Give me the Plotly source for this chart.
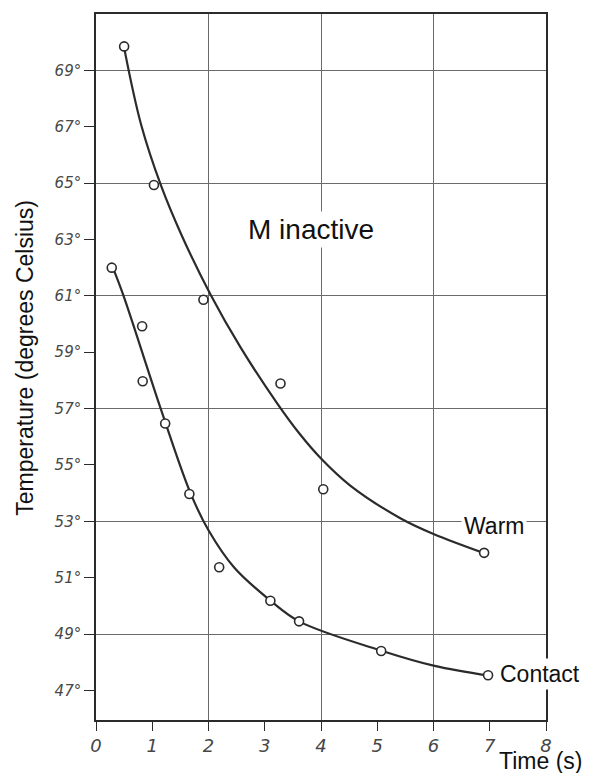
import plotly.graph_objects as go

# ---- data ----
warm_t = [0.50, 1.03, 1.91, 3.28, 4.04, 6.90]
warm_T = [69.85, 64.93, 60.86, 57.89, 54.14, 51.88]

contact_t = [0.28, 0.82, 0.83, 1.23, 1.66, 2.19, 3.10, 3.61, 5.07, 6.97]
contact_T = [62.0, 59.92, 57.97, 56.47, 53.97, 51.37, 50.18, 49.45, 48.40, 47.54]

# smooth fitted curves
warm_curve_t = [0.51, 0.80, 1.16, 1.52, 2.04, 2.57, 3.23, 3.63, 4.00, 4.52, 5.41, 6.00, 6.90]
warm_curve_T = [69.70, 67.09, 64.89, 63.16, 61.03, 59.17, 57.16, 56.08, 55.23, 54.27, 53.11, 52.55, 51.87]

contact_curve_t = [0.30, 0.49, 1.15, 1.68, 2.00, 2.46, 3.11, 3.61, 5.09, 6.02, 6.99]
contact_curve_T = [62.0, 61.0, 57.0, 54.0, 52.68, 51.35, 50.17, 49.45, 48.40, 47.87, 47.52]

x_ticks = [0, 1, 2, 3, 4, 5, 6, 7, 8]
y_ticks = [47, 49, 51, 53, 55, 57, 59, 61, 63, 65, 67, 69]
y_tick_text = [f"{v}°" for v in y_ticks]
x_grid = [2, 4, 6]
y_grid = [49, 53, 57, 61, 65, 69]

x_range = [0, 8]
y_range = [45.95, 71.0]

INK = "#2b2b2b"
GRID = "#6a6a6a"
TICKFONT = dict(family="DejaVu Sans", size=15, color="#474747", style="italic")

fig = go.Figure()

# grid-only overlay axes (dummy trace)
fig.add_trace(go.Scatter(x=[None], y=[None], xaxis="x2", yaxis="y2",
                         showlegend=False, hoverinfo="skip"))

fig.add_trace(go.Scatter(x=warm_curve_t, y=warm_curve_T, mode="lines",
                         line=dict(color=INK, width=2.2, shape="spline", smoothing=1.0),
                         showlegend=False, hoverinfo="skip"))
fig.add_trace(go.Scatter(x=contact_curve_t, y=contact_curve_T, mode="lines",
                         line=dict(color=INK, width=2.2, shape="spline", smoothing=1.0),
                         showlegend=False, hoverinfo="skip"))

marker_style = dict(symbol="circle", size=9, color="white",
                    line=dict(color=INK, width=1.6))
fig.add_trace(go.Scatter(x=warm_t, y=warm_T, mode="markers", name="Warm",
                         marker=marker_style, showlegend=False))
fig.add_trace(go.Scatter(x=contact_t, y=contact_T, mode="markers", name="Contact",
                         marker=marker_style, showlegend=False))

# page body adds an 8px offset, so the figure is 8px smaller and shifted
fig.update_layout(
    width=583, height=765,
    margin=dict(l=88, r=45, t=4, b=53),
    paper_bgcolor="white", plot_bgcolor="white",
    showlegend=False,
    xaxis=dict(range=x_range, tickvals=x_ticks, ticktext=[str(v) for v in x_ticks],
               ticks="outside", ticklen=9, tickwidth=1.3, tickcolor=INK,
               showline=True, mirror=True, linecolor=INK, linewidth=1.6,
               showgrid=False, zeroline=False, tickfont=dict(TICKFONT, size=18)),
    yaxis=dict(range=y_range, tickvals=y_ticks, ticktext=y_tick_text,
               ticks="outside", ticklen=10, tickwidth=1.3, tickcolor=INK,
               showline=True, mirror=True, linecolor=INK, linewidth=1.6,
               showgrid=False, zeroline=False, tickfont=TICKFONT),
    xaxis2=dict(overlaying="x", range=x_range, tickvals=x_grid, showgrid=True,
                gridcolor=GRID, gridwidth=1.2, showticklabels=False, ticks="",
                showline=False, zeroline=False),
    yaxis2=dict(overlaying="y", range=y_range, tickvals=y_grid, showgrid=True,
                gridcolor=GRID, gridwidth=1.2, showticklabels=False, ticks="",
                showline=False, zeroline=False),
)

LABEL_FONT = dict(family="Liberation Sans, Arial, sans-serif", color="#111111")

fig.add_annotation(x=3.83, y=63.35, xref="x", yref="y", text="M inactive",
                   showarrow=False, font=dict(LABEL_FONT, size=28),
                   bgcolor="white", borderpad=2)
fig.add_annotation(x=6.48, y=52.85, xref="x", yref="y", text="Warm",
                   xanchor="left", showarrow=False, font=dict(LABEL_FONT, size=23),
                   bgcolor="white", borderpad=2)
fig.add_annotation(x=7.12, y=47.58, xref="x", yref="y", text="Contact",
                   xanchor="left", showarrow=False, font=dict(LABEL_FONT, size=23),
                   bgcolor="white", borderpad=2)
fig.add_annotation(x=7.91, y=-0.058, xref="x", yref="paper", text="Time (s)",
                   showarrow=False, font=dict(LABEL_FONT, size=23),
                   xanchor="center", yanchor="middle")
fig.add_annotation(x=-0.158, y=0.513, xref="paper", yref="paper",
                   text="Temperature (degrees Celsius)", textangle=-90,
                   showarrow=False, font=dict(LABEL_FONT, size=23),
                   xanchor="center", yanchor="middle")

fig.write_html("out.html")
